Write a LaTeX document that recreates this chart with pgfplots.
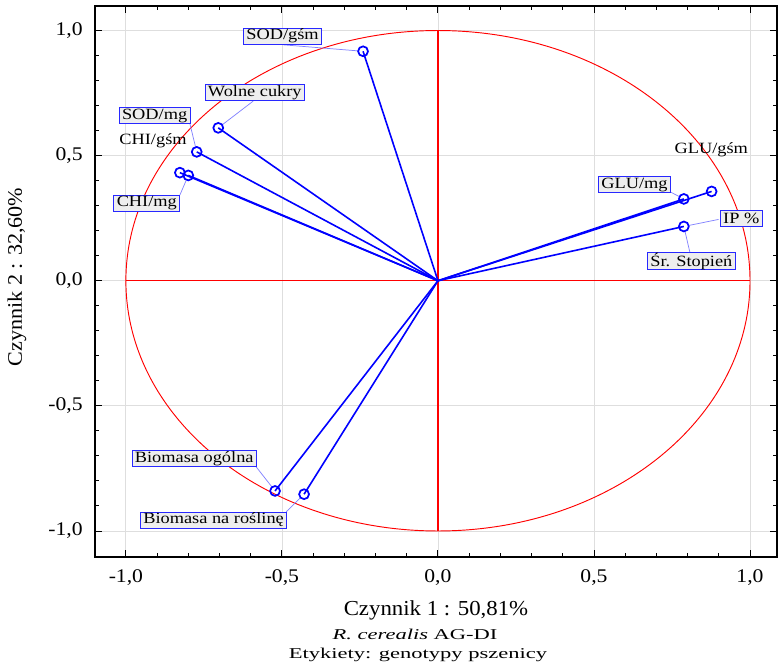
\documentclass[border=0pt]{standalone}
\usepackage{fontspec}
\setmainfont{Liberation Serif}
\newfontfamily\lblfont{Liberation Serif}[FakeStretch=1.17]
\newfontfamily\tickfont{Liberation Serif}[FakeStretch=1.12]
\newfontfamily\axfont{Liberation Serif}[FakeStretch=1.07]
\newfontfamily\capfont{Liberation Serif}[FakeStretch=1.5]
\usepackage{pgfplots}
\pgfplotsset{compat=1.18}
\definecolor{boxblue}{RGB}{40,40,255}
\definecolor{connblue}{RGB}{130,130,255}
\definecolor{boxfill}{RGB}{238,238,238}
\begin{document}
\begin{tikzpicture}[
  lbl/.style={draw=boxblue, fill=boxfill, line width=0.6pt, font=\lblfont\fontsize{11.75}{12}\selectfont, inner xsep=2.25pt, inner ysep=0pt, minimum height=12pt},
  plainlbl/.style={font=\lblfont\fontsize{11.75}{12}\selectfont, inner sep=0pt},
  conn/.style={draw=connblue, line width=0.55pt, shorten >=3.6pt}
]
\useasboundingbox (-71.25pt,-83.25pt) rectangle (512.25pt,417.75pt);
\begin{axis}[
  at={(0pt,0pt)}, anchor=south west,
  scale only axis, width=511.5pt, height=413.25pt,
  xmin=-1.099, xmax=1.0865, ymin=-1.104, ymax=1.098,
  xtick={-1,-0.5,0,0.5,1}, ytick={-1,-0.5,0,0.5,1},
  xticklabels={{-1,0},{-0,5},{0,0},{0,5},{1,0}},
  yticklabels={{-1,0},{-0,5},{0,0},{0,5},{1,0}},
  minor tick num=4,
  tick align=inside,
  major tick length=5pt, minor tick length=3pt,
  grid=major,
  major grid style={draw=black!13, line width=0.6pt},
  axis line style={black, line width=0.9pt},
  tick style={black, line width=0.7pt},
  xticklabel style={font=\tickfont\fontsize{14.5}{16}\selectfont, anchor=center, inner sep=0pt, yshift=-15.75pt},
  yticklabel style={font=\tickfont\fontsize{14.5}{16}\selectfont, anchor=east, inner sep=0pt, xshift=-9pt},
]
% reference cross and unit circle
\addplot[red, line width=1pt] coordinates {(-1,0) (1,0)};
\addplot[red, line width=1pt] coordinates {(0,-1) (0,1)};
\draw[red, line width=0.7pt] (axis cs:0,0) ellipse [x radius=1, y radius=1];

% loading vectors
\addplot[blue, line width=1.2pt] coordinates {(0,0) (-0.240,0.917)};
\addplot[blue, line width=1.2pt] coordinates {(0,0) (-0.704,0.611)};
\addplot[blue, line width=1.2pt] coordinates {(0,0) (-0.773,0.515)};
\addplot[blue, line width=1.2pt] coordinates {(0,0) (-0.827,0.432)};
\addplot[blue, line width=1.2pt] coordinates {(0,0) (-0.800,0.421)};
\addplot[blue, line width=1.2pt] coordinates {(0,0) (0.877,0.357)};
\addplot[blue, line width=1.2pt] coordinates {(0,0) (0.788,0.327)};
\addplot[blue, line width=1.2pt] coordinates {(0,0) (0.788,0.217)};
\addplot[blue, line width=1.2pt] coordinates {(0,0) (-0.522,-0.840)};
\addplot[blue, line width=1.2pt] coordinates {(0,0) (-0.429,-0.853)};

% label connectors
\draw[conn] (axis cs:-0.497,0.943) -- (axis cs:-0.240,0.917);
\draw[conn] (axis cs:-0.592,0.718) -- (axis cs:-0.704,0.611);
\draw[conn] (axis cs:-0.795,0.628) -- (axis cs:-0.773,0.515);
\draw[conn] (axis cs:-0.827,0.3425) -- (axis cs:-0.800,0.421);
\draw[conn] (axis cs:0.746,0.354) -- (axis cs:0.788,0.327);
\draw[conn] (axis cs:0.899,0.245) -- (axis cs:0.788,0.217);
\draw[conn] (axis cs:0.808,0.11) -- (axis cs:0.788,0.217);
\draw[conn] (axis cs:-0.583,-0.743) -- (axis cs:-0.522,-0.840);
\draw[conn] (axis cs:-0.486,-0.923) -- (axis cs:-0.429,-0.853);

% markers
\addplot[only marks, mark=o, blue, mark size=3.7pt, mark options={line width=1.3pt}] coordinates {
  (-0.240,0.917) (-0.704,0.611) (-0.773,0.515) (-0.827,0.432) (-0.800,0.421)
  (0.877,0.357) (0.788,0.327) (0.788,0.217) (-0.522,-0.840) (-0.429,-0.853)};

% labels
\node[lbl] at (axis cs:-0.498,0.978) {SOD/gśm};
\node[lbl] at (axis cs:-0.587,0.751) {Wolne cukry};
\node[lbl] at (axis cs:-0.908,0.660) {SOD/mg};
\node[plainlbl] at (axis cs:-0.913,0.559) {CHI/gśm};
\node[lbl] at (axis cs:-0.933,0.310) {CHI/mg};
\node[plainlbl] at (axis cs:0.876,0.522) {GLU/gśm};
\node[lbl] at (axis cs:0.630,0.384) {GLU/mg};
\node[lbl] at (axis cs:0.972,0.249) {IP \%};
\node[lbl] at (axis cs:0.812,0.078) {Śr. Stopień};
\node[lbl] at (axis cs:-0.781,-0.711) {Biomasa ogólna};
\node[lbl] at (axis cs:-0.719,-0.956) {Biomasa na roślinę};
\end{axis}
\node[rotate=90, font=\axfont\fontsize{15.5}{17}\selectfont, inner sep=0pt] at (-58.5pt,210pt) {Czynnik 2 : 32,60\%};
\node[font=\axfont\fontsize{16}{18}\selectfont, inner sep=0pt] at (255.75pt,-39.75pt) {Czynnik 1 : 50,81\%};
\node[font=\capfont\fontsize{11.25}{13}\selectfont, inner sep=0pt] at (240pt,-57.75pt) {\textit{R. cerealis} AG-DI};
\node[font=\capfont\fontsize{11.25}{13}\selectfont, inner sep=0pt] at (242.25pt,-73.5pt) {Etykiety: genotypy pszenicy};
\end{tikzpicture}
\end{document}
